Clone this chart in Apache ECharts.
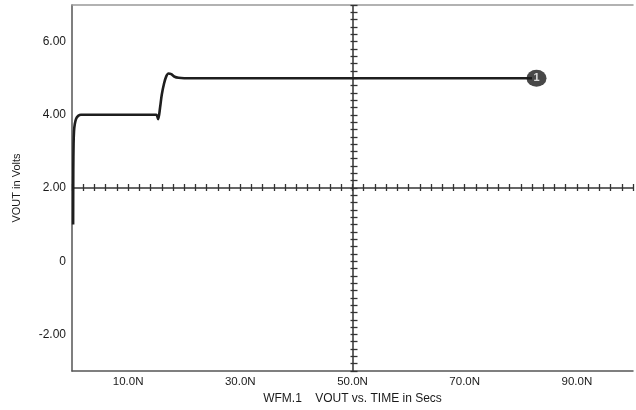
<!DOCTYPE html>
<html>
<head>
<meta charset="utf-8">
<script src="https://cdn.jsdelivr.net/npm/echarts@6/dist/echarts.min.js"></script>
<style>
html,body{margin:0;padding:0;background:#fff;}
#c{width:636px;height:410px;}
</style>
</head>
<body>
<div id="c"></div>
<script>
// ---- data ----
const timeNs = [0.2, 0.23, 0.28, 0.36, 0.5, 0.75, 1.1, 1.6, 2.5, 15.0, 15.35, 15.7, 16.0, 16.4, 16.8, 17.2, 17.7, 18.3, 19.0, 20.0, 82.0];
const vout   = [1.0, 2.5, 3.2, 3.55, 3.75, 3.9, 3.97, 4.0, 4.0, 4.0, 3.88, 4.2, 4.55, 4.85, 5.05, 5.13, 5.11, 5.04, 5.01, 5.0, 5.0];
const xTickLabels = ['10.0N', '30.0N', '50.0N', '70.0N', '90.0N'];
const xTickValues = [10, 30, 50, 70, 90];
const yTickLabels = ['-2.00', '0', '2.00', '4.00', '6.00'];
const yTickValues = [-2, 0, 2, 4, 6];
const markerLabel = '1';
const markerPoint = [82.8, 5.0];
const crossX = 50;
const crossY = 2;

// ---- layout ----
const G = {left: 72, right: 0, top: 5, bottom: 38};
const H = 410 - G.top - G.bottom;   // 367
const W = 636 - G.left - G.right;   // 564
const yMin = -3, yMax = 7, xMin = 0, xMax = 100;
const pyCross = G.top + H * (yMax - crossY) / (yMax - yMin);
const pxCross = G.left + W * (crossX - xMin) / (xMax - xMin);
const tickLen = 7;
const FONT = 'Liberation Sans, Arial, sans-serif';

const data = timeNs.map((t, i) => [t, vout[i]]);

const chart = echarts.init(document.getElementById('c'), null, {renderer: 'canvas'});
chart.setOption({
  backgroundColor: '#fff',
  animation: false,
  grid: {left: G.left, right: G.right, top: G.top, bottom: G.bottom, show: false},
  xAxis: [
    {
      type: 'value', min: xMin, max: xMax, interval: 10,
      axisLine: {show: true, onZero: false, lineStyle: {color: '#555', width: 1.5}},
      axisTick: {show: false},
      splitLine: {show: false},
      axisLabel: {
        color: '#1a1a1a', fontSize: 11.5, fontFamily: FONT, margin: 5,
        formatter: v => { const i = xTickValues.indexOf(v); return i >= 0 ? xTickLabels[i] : ''; }
      },
      name: 'WFM.1    VOUT vs. TIME in Secs',
      nameLocation: 'middle', nameGap: 22,
      nameTextStyle: {color: '#1a1a1a', fontSize: 12, fontFamily: FONT}
    },
    {
      type: 'value', min: xMin, max: xMax, position: 'top',
      axisLine: {show: true, onZero: false, lineStyle: {color: '#999', width: 1.5}},
      axisTick: {show: false}, axisLabel: {show: false}, splitLine: {show: false}
    },
    {
      // tick marks along the horizontal cross line
      type: 'value', min: xMin, max: xMax, interval: 2, position: 'bottom',
      offset: (pyCross - tickLen / 2) - (G.top + H),
      axisLine: {show: false, onZero: false},
      axisTick: {show: true, length: tickLen, lineStyle: {color: '#333', width: 1.3}},
      axisLabel: {show: false}, splitLine: {show: false}
    }
  ],
  yAxis: [
    {
      type: 'value', min: yMin, max: yMax, interval: 1,
      axisLine: {show: true, onZero: false, lineStyle: {color: '#555', width: 1.5}},
      axisTick: {show: false},
      splitLine: {show: false},
      axisLabel: {
        color: '#1a1a1a', fontSize: 12, fontFamily: FONT, margin: 6,
        formatter: v => { const i = yTickValues.indexOf(v); return i >= 0 ? yTickLabels[i] : ''; }
      },
      name: 'VOUT in Volts',
      nameLocation: 'middle', nameGap: 50,
      nameTextStyle: {color: '#1a1a1a', fontSize: 11, fontFamily: FONT}
    },
    {
      // tick marks along the vertical cross line
      type: 'value', min: yMin, max: yMax, interval: 0.2, position: 'left',
      offset: G.left - (pxCross + tickLen / 2),
      axisLine: {show: false, onZero: false},
      axisTick: {show: true, length: tickLen, lineStyle: {color: '#333', width: 1.3}},
      axisLabel: {show: false}, splitLine: {show: false}
    }
  ],
  series: [
    {
      type: 'line', data: data, xAxisIndex: 0, yAxisIndex: 0,
      showSymbol: false, smooth: 0.3,
      lineStyle: {color: '#1e1e1e', width: 2.6},
      z: 5,
      markLine: {
        silent: true, symbol: 'none', label: {show: false},
        lineStyle: {color: '#333', width: 1.5, type: 'solid'},
        data: [{xAxis: crossX}, {yAxis: crossY}]
      }
    },
    {
      type: 'scatter', data: [markerPoint], xAxisIndex: 0, yAxisIndex: 0,
      symbol: 'circle', symbolSize: [20, 17],
      itemStyle: {color: '#1a1a1a'},
      label: {show: true, position: 'inside', formatter: markerLabel, color: '#fff', fontSize: 11, fontWeight: 'bold', fontFamily: FONT},
      z: 6
    }
  ]
});
</script>
</body>
</html>
